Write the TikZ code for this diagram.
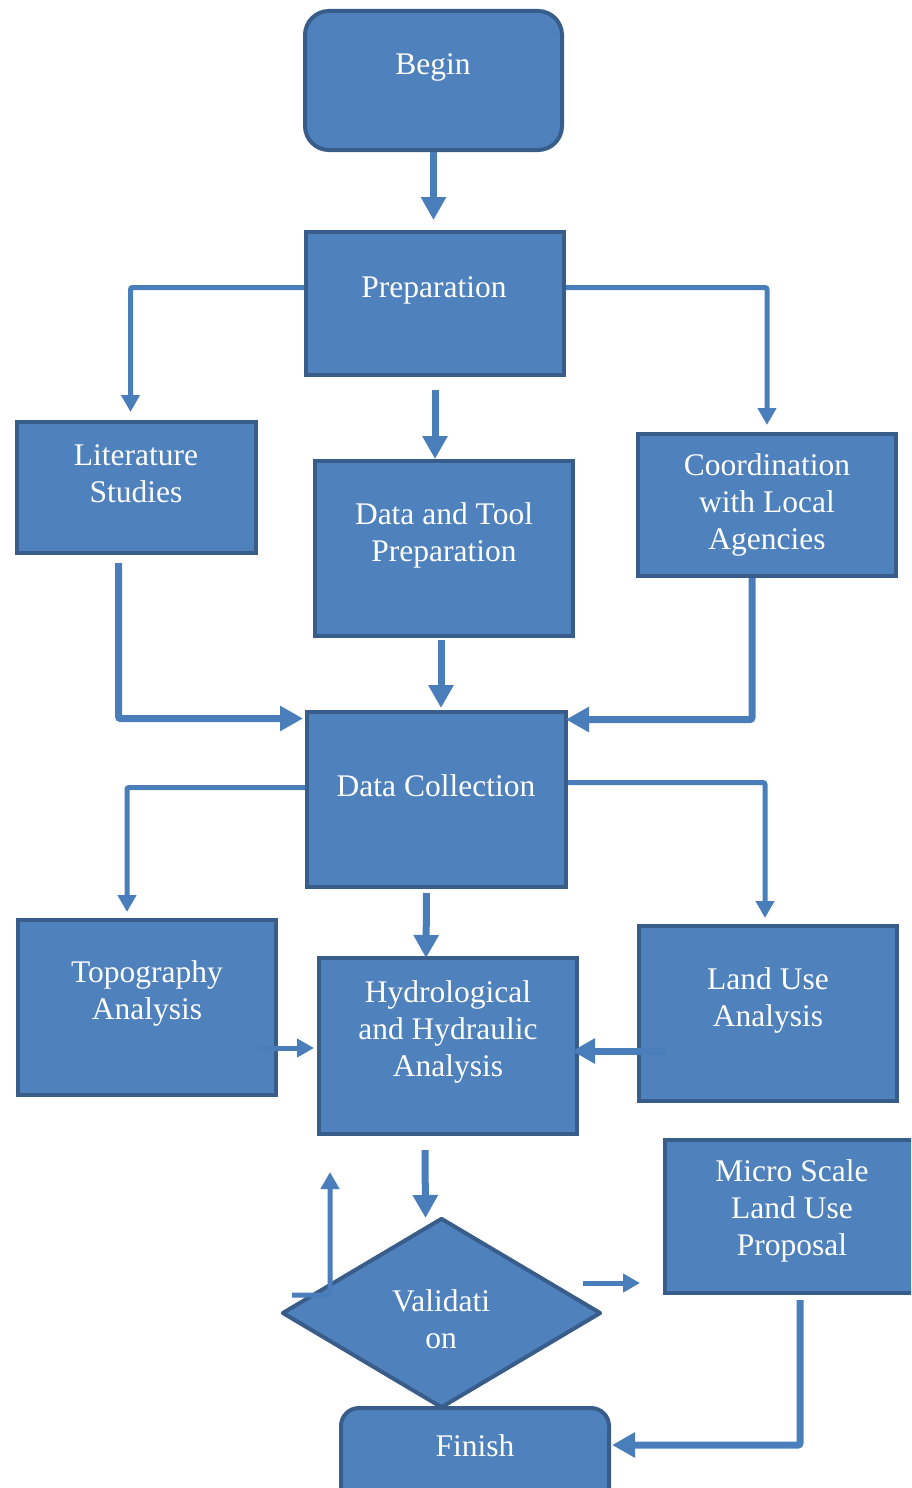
\documentclass[tikz,border=0pt]{standalone}
\usepackage{fontspec}
\setmainfont{Liberation Serif}
\usetikzlibrary{arrows.meta,shapes.geometric,calc}
\definecolor{boxfill}{RGB}{79,129,189}
\definecolor{boxline}{RGB}{56,93,138}
\definecolor{arrowblue}{RGB}{74,126,187}
\tikzset{
  box/.style={draw=boxline, fill=boxfill, line width=4pt, inner sep=0pt},
  txt/.style={text=white, font=\fontsize{31.5}{37}\selectfont, align=center, inner sep=0pt},
  link/.style={draw=arrowblue, line width=5pt, rounded corners=2pt, -{Triangle[width=18pt,length=17pt]}},
  fatlink/.style={link, line width=7pt, -{Triangle[width=24pt,length=23pt]}},
}
\begin{document}
\begin{tikzpicture}[x=1pt,y=1pt,yscale=-1,xscale=1]
\useasboundingbox (0,0) rectangle (911,1488);
\clip (0,0) rectangle (911,1488);

%Shape: Rounded Rectangle
\node[box, rounded corners=24pt, minimum width=257pt, minimum height=139pt] (begin) at (433.5,80.5) {};
%Shape: Rectangle
\node[box, minimum width=258pt, minimum height=143pt] (prep) at (435,303.5) {};
\node[box, minimum width=239pt, minimum height=131pt] (lit) at (136.5,487.5) {};
\node[box, minimum width=258pt, minimum height=175pt] (tool) at (444,548.5) {};
\node[box, minimum width=258pt, minimum height=142pt] (coord) at (767,505) {};
\node[box, minimum width=259pt, minimum height=175pt] (collect) at (436.5,799.5) {};
\node[box, minimum width=258pt, minimum height=175pt] (topo) at (147,1007.5) {};
\node[box, minimum width=258pt, minimum height=176pt] (hydro) at (448,1046) {};
\node[box, minimum width=258pt, minimum height=175pt] (landuse) at (768,1013.5) {};
\node[box, minimum width=258pt, minimum height=153pt] (micro) at (794,1216.5) {};
%Shape: Diamond
\node[box, diamond, line join=round, minimum width=319pt, minimum height=190pt] (valid) at (441.5,1313) {};
%Shape: Rounded Rectangle
\node[box, rounded corners=18pt, minimum width=268pt, minimum height=100pt] (finish) at (475,1458) {};

% Text Node
\node[txt] (begin-t) at (433,67) {Begin};
\node[txt] (prep-t) at (434,290) {Preparation};
\node[txt] (lit-t) at (136,474) {Literature\\Studies};
\node[txt] (tool-t) at (444,535) {Data and Tool\\Preparation};
\node[txt] (coord-t) at (767,505) {Coordination\\with Local\\Agencies};
\node[txt] (collect-t) at (436,786) {Data Collection};
\node[txt] (topo-t) at (147,993) {Topography\\Analysis};
\node[txt] (hydro-t) at (448,1032) {Hydrological\\and Hydraulic\\Analysis};
\node[txt] (landuse-t) at (768,1000) {Land Use\\Analysis};
\node[txt] (micro-t) at (792,1211) {Micro Scale\\Land Use\\Proposal};
\node[txt] (valid-t) at (441,1319) {Validati\\on};
\node[txt] (finish-t) at (475,1446) {Finish};

% Connectors
\draw[fatlink, shorten >=10pt] (begin.south) -- (begin.south |- prep.north);
\draw[link] ($(prep.west)+(0,-16)$) -| ($(lit.north)+(-6,-8)$);
\draw[link] ($(prep.east)+(0,-16)$) -| ($(coord.north)+(0,-7)$);
\draw[fatlink] ($(prep.south)+(0,13)$) -- (prep.south |- tool.north);
\draw[fatlink] ($(lit.south)+(-18,8)$) |- ($(collect.west)+(-2,-81)$);
\draw[fatlink] ($(tool.south)+(-3,2)$) -- ($(collect.north)+(4.5,-2)$);
\draw[fatlink] ($(coord.south)+(-15,0)$) |- ($(collect.east)+(-2,-80)$);
\draw[link] ($(collect.west)+(0,-12)$) -| ($(topo.north)+(-20,-6)$);
\draw[link] ($(collect.east)+(0,-17)$) -| ($(landuse.north)+(-3,-6)$);
\draw[fatlink] ($(collect.south)+(-10,4)$) -- ($(hydro.north)+(-22,2)$);
\draw[link] ($(topo.east)+(-20,40.5)$) -- ($(hydro.west)+(-3,2)$);
\draw[fatlink] ($(landuse.west)+(29,37.5)$) -- ($(hydro.east)+(-7,5)$);
\draw[fatlink] ($(hydro.south)+(-23,14)$) -- ($(valid.north)+(-16,2)$);
\draw[link] ($(valid.west)+(12,-18)$) -| ($(hydro.south west)+(13,36)$);
\draw[link] ($(valid.east)+(-20,-30)$) -- ($(micro.west)+(-23,66.5)$);
\draw[fatlink] ($(micro.south)+(6,5)$) |- ($(finish.east)+(1,-13)$);

\end{tikzpicture}
\end{document}
